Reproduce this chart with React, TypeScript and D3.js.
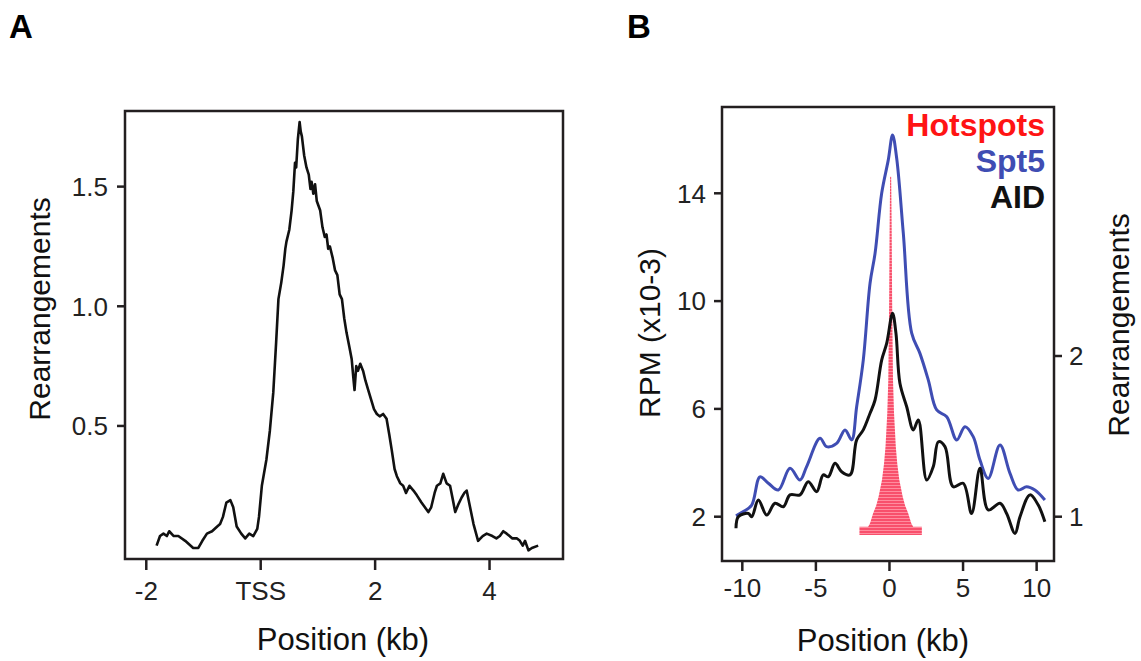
import React from 'react';
import * as d3 from 'd3';

// Panel A: rearrangements around the TSS
const aPosition = [-1.82, -1.76, -1.7, -1.64, -1.6, -1.52, -1.44, -1.32, -1.18, -1.09, -1.02, -0.94, -0.85, -0.76, -0.71, -0.66, -0.6, -0.53, -0.48, -0.42, -0.34, -0.27, -0.2, -0.13, -0.06, -0.03, 0.02, 0.1, 0.16, 0.22, 0.27, 0.31, 0.36, 0.4, 0.43, 0.45, 0.5, 0.54, 0.57, 0.6, 0.62, 0.65, 0.68, 0.7, 0.72, 0.76, 0.8, 0.84, 0.87, 0.89, 0.92, 0.95, 0.98, 1.01, 1.04, 1.08, 1.12, 1.15, 1.18, 1.21, 1.26, 1.3, 1.34, 1.38, 1.42, 1.46, 1.5, 1.55, 1.59, 1.62, 1.64, 1.67, 1.7, 1.74, 1.79, 1.83, 1.88, 1.93, 1.98, 2.03, 2.08, 2.14, 2.2, 2.25, 2.29, 2.34, 2.38, 2.44, 2.49, 2.54, 2.6, 2.67, 2.73, 2.81, 2.87, 2.93, 2.98, 3.04, 3.08, 3.14, 3.19, 3.25, 3.31, 3.36, 3.4, 3.45, 3.51, 3.56, 3.6, 3.66, 3.72, 3.8, 3.88, 3.95, 4.05, 4.12, 4.18, 4.24, 4.3, 4.4, 4.48, 4.53, 4.58, 4.62, 4.68, 4.74, 4.85];
const aRearr = [0.0, 0.04, 0.05, 0.04, 0.06, 0.04, 0.04, 0.02, -0.01, -0.01, 0.02, 0.05, 0.06, 0.08, 0.09, 0.12, 0.18, 0.19, 0.16, 0.08, 0.05, 0.03, 0.05, 0.04, 0.07, 0.12, 0.25, 0.36, 0.48, 0.64, 0.85, 1.03, 1.1, 1.17, 1.24, 1.27, 1.32, 1.4, 1.48, 1.6, 1.58, 1.7, 1.77, 1.73, 1.71, 1.63, 1.58, 1.55, 1.49, 1.52, 1.47, 1.51, 1.44, 1.42, 1.4, 1.33, 1.29, 1.3, 1.24, 1.25, 1.2, 1.15, 1.13, 1.05, 1.03, 0.95, 0.89, 0.83, 0.78, 0.7, 0.65, 0.75, 0.73, 0.76, 0.73, 0.69, 0.65, 0.61, 0.57, 0.55, 0.54, 0.55, 0.53, 0.46, 0.4, 0.32, 0.29, 0.26, 0.25, 0.22, 0.25, 0.23, 0.21, 0.18, 0.16, 0.14, 0.16, 0.22, 0.25, 0.26, 0.3, 0.26, 0.25, 0.19, 0.14, 0.17, 0.2, 0.22, 0.23, 0.16, 0.09, 0.02, 0.04, 0.05, 0.04, 0.03, 0.04, 0.06, 0.05, 0.03, 0.03, 0.02, 0.0, 0.02, -0.02, -0.01, 0.0];
const aXTicks = [-2, 0, 2, 4];
const aXTickLabels = ['-2', 'TSS', '2', '4'];
const aYTicks = [0.5, 1.0, 1.5];

// Panel B: Spt5 / AID RPM and hotspot rearrangements
const spt5Position = [-10.43, -9.93, -9.36, -8.8, -8.23, -7.55, -6.76, -6.08, -5.63, -4.72, -4.27, -3.59, -3.02, -2.57, -2.23, -1.78, -1.32, -0.98, -0.53, -0.08, 0.21, 0.49, 0.94, 1.51, 2.07, 2.64, 3.21, 3.89, 4.57, 5.13, 5.69, 6.15, 6.71, 7.51, 8.19, 8.75, 9.32, 9.88, 10.56];
const spt5Rpm = [2.03, 2.19, 2.43, 3.48, 3.24, 2.99, 3.8, 3.36, 3.86, 4.91, 4.6, 4.72, 5.22, 4.85, 6.08, 7.81, 10.66, 11.77, 14.0, 15.24, 16.16, 15.3, 12.52, 8.81, 8.06, 7.07, 5.96, 5.71, 4.85, 5.34, 4.97, 4.1, 3.42, 4.66, 3.61, 2.99, 3.11, 2.99, 2.62];
const aidPosition = [-10.43, -10.27, -9.59, -9.36, -8.91, -8.34, -7.78, -7.21, -6.76, -6.08, -5.52, -4.95, -4.5, -4.16, -3.7, -3.25, -2.68, -2.23, -1.78, -1.32, -0.98, -0.53, -0.19, 0.21, 0.44, 0.71, 1.17, 1.62, 1.96, 2.53, 2.98, 3.32, 3.77, 4.33, 5.01, 5.58, 6.15, 6.71, 7.51, 7.96, 8.53, 8.87, 9.55, 10.11, 10.56];
const aidRpm = [1.57, 2.0, 2.12, 2.0, 2.62, 2.06, 2.5, 2.37, 2.81, 2.81, 3.3, 2.93, 3.55, 3.48, 3.98, 3.67, 3.55, 4.85, 5.22, 5.84, 6.33, 7.81, 8.43, 9.55, 8.81, 6.95, 6.08, 5.22, 5.59, 3.36, 3.86, 4.78, 4.6, 3.11, 3.24, 2.12, 3.8, 2.25, 2.5, 2.12, 1.38, 2.0, 2.81, 2.43, 1.81];
// hotspot profile: rearrangement level and half width (kb) about the centre
const hotspotCenter = 0.08;
const hotspotLevel = [0.886, 0.938, 0.938, 0.96, 1.021, 1.07, 1.124, 1.228, 1.33, 1.436, 1.643, 1.851, 2.35, 2.8, 3.116];
const hotspotHalfWidth = [2.12, 2.12, 1.53, 1.4, 1.19, 0.98, 0.82, 0.59, 0.45, 0.35, 0.23, 0.16, 0.1, 0.07, 0.035];
const bXTicks = [-10, -5, 0, 5, 10];
const bLeftTicks = [2, 6, 10, 14];
const bRightTicks = [1, 2];
const legendItems = [
  { label: 'Hotspots', color: '#ff1414' },
  { label: 'Spt5', color: '#3f4db3' },
  { label: 'AID', color: '#111111' },
];

const FONT = '"Liberation Sans", Arial, Helvetica, sans-serif';
const AXIS = '#231f20';

const App = () => {
  // panel A box
  const aBox = { left: 125, right: 563, top: 111, bottom: 559 };
  const ax = d3.scaleLinear().domain([-2.372, 5.284]).range([aBox.left, aBox.right]);
  const ay = d3.scaleLinear().domain([-0.056, 1.816]).range([aBox.bottom, aBox.top]);

  // panel B box
  const bBox = { left: 722, right: 1054, top: 107, bottom: 561 };
  const bx = d3.scaleLinear().domain([-11.38, 11.18]).range([bBox.left, bBox.right]);
  const byL = d3.scaleLinear().domain([2, 14]).range([516.7, 193.3]);
  const byR = d3.scaleLinear().domain([1, 2]).range([516.7, 356]);

  const aLine = d3.line<number>().x((d, i) => ax(aPosition[i])).y(d => ay(d));
  const spt5Line = d3.line<number>().x((d, i) => bx(spt5Position[i])).y(d => byL(d)).curve(d3.curveCatmullRom);
  const aidLine = d3.line<number>().x((d, i) => bx(aidPosition[i])).y(d => byL(d)).curve(d3.curveCatmullRom);
  const hotspotArea = d3.area<number>()
    .y(d => byR(d))
    .x0((d, i) => bx(hotspotCenter - hotspotHalfWidth[i]))
    .x1((d, i) => bx(hotspotCenter + hotspotHalfWidth[i]));

  return (
    <svg width={1141} height={661} style={{ position: 'absolute', left: 0, top: 0, background: '#fff' }} fontFamily={FONT}>
      <defs>
        <pattern id="stripes" width="4" height="3" patternUnits="userSpaceOnUse">
          <rect width="4" height="3" fill="#f8506c" />
          <rect y="2" width="4" height="1" fill="#ff8d9f" />
        </pattern>
      </defs>

      {/* panel labels */}
      <text x={9} y={38} fontSize={33} fontWeight="bold" fill="#000">A</text>
      <text x={627} y={38} fontSize={33} fontWeight="bold" fill="#000">B</text>

      {/* ---- Panel A ---- */}
      <path d={aLine(aRearr) || ''} fill="none" stroke="#111" strokeWidth={2.6} strokeLinejoin="round" />
      <rect x={aBox.left} y={aBox.top} width={aBox.right - aBox.left} height={aBox.bottom - aBox.top}
        fill="none" stroke={AXIS} strokeWidth={2.5} />
      {aXTicks.map((t, i) => (
        <g key={'ax' + t}>
          <line x1={ax(t)} x2={ax(t)} y1={aBox.bottom} y2={aBox.bottom + 11} stroke={AXIS} strokeWidth={2.5} />
          <text x={ax(t)} y={600} textAnchor="middle" fontSize={26} fill="#222">{aXTickLabels[i]}</text>
        </g>
      ))}
      {aYTicks.map(t => (
        <g key={'ay' + t}>
          <line x1={aBox.left - 8} x2={aBox.left} y1={ay(t)} y2={ay(t)} stroke={AXIS} strokeWidth={2.5} />
          <text x={108} y={ay(t)} dy="0.36em" textAnchor="end" fontSize={26} fill="#222">{t.toFixed(1)}</text>
        </g>
      ))}
      <text x={343} y={650} textAnchor="middle" fontSize={31} fill="#111">Position (kb)</text>
      <text transform="translate(50,309) rotate(-90)" textAnchor="middle" fontSize={30} fill="#111">Rearrangements</text>

      {/* ---- Panel B ---- */}
      <path d={hotspotArea(hotspotLevel) || ''} fill="url(#stripes)" stroke="none" />
      <path d={spt5Line(spt5Rpm) || ''} fill="none" stroke="#3f4db3" strokeWidth={3} strokeLinejoin="round" />
      <path d={aidLine(aidRpm) || ''} fill="none" stroke="#111" strokeWidth={3} strokeLinejoin="round" />
      <rect x={bBox.left} y={bBox.top} width={bBox.right - bBox.left} height={bBox.bottom - bBox.top}
        fill="none" stroke={AXIS} strokeWidth={2.5} />
      {bXTicks.map(t => (
        <g key={'bx' + t}>
          <line x1={bx(t)} x2={bx(t)} y1={bBox.bottom} y2={bBox.bottom + 10} stroke={AXIS} strokeWidth={2.5} />
          <text x={bx(t)} y={597} textAnchor="middle" fontSize={26} fill="#222">{t}</text>
        </g>
      ))}
      {bLeftTicks.map(t => (
        <g key={'bl' + t}>
          <line x1={bBox.left - 8} x2={bBox.left} y1={byL(t)} y2={byL(t)} stroke={AXIS} strokeWidth={2.5} />
          <text x={706} y={byL(t)} dy="0.36em" textAnchor="end" fontSize={26} fill="#222">{t}</text>
        </g>
      ))}
      {bRightTicks.map(t => (
        <g key={'br' + t}>
          <line x1={bBox.right} x2={bBox.right + 8} y1={byR(t)} y2={byR(t)} stroke={AXIS} strokeWidth={2.5} />
          <text x={1069} y={byR(t)} dy="0.36em" textAnchor="start" fontSize={26} fill="#222">{t}</text>
        </g>
      ))}
      <text x={883} y={651} textAnchor="middle" fontSize={31} fill="#111">Position (kb)</text>
      <text transform="translate(660,333) rotate(-90)" textAnchor="middle" fontSize={30} fill="#111">RPM (x10-3)</text>
      <text transform="translate(1129,325) rotate(-90)" textAnchor="middle" fontSize={30} fill="#111">Rearrangements</text>

      {legendItems.map((d, i) => (
        <text key={d.label} x={1045} y={136 + i * 36} textAnchor="end" fontSize={32} fontWeight="bold" fill={d.color}>{d.label}</text>
      ))}
    </svg>
  );
};

export default App;
